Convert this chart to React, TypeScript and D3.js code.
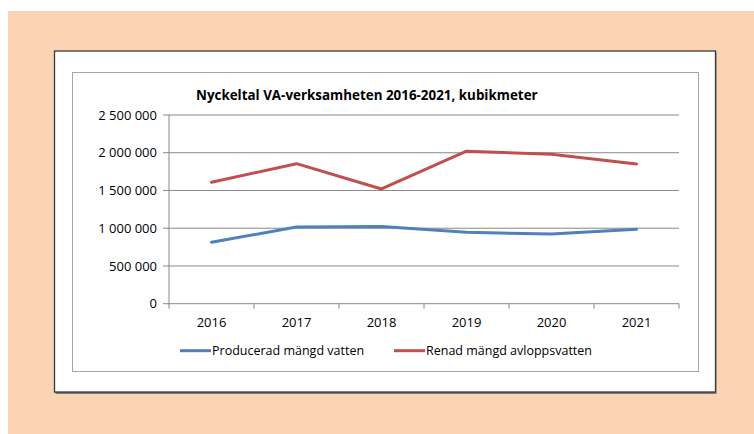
import React from "react";
import * as d3 from "d3";

const years = ["2016", "2017", "2018", "2019", "2020", "2021"];
const produced = [814000, 1015000, 1022000, 947000, 922000, 985000];
const treated = [1610000, 1855000, 1520000, 2020000, 1980000, 1850000];
const yTicks = [0, 500000, 1000000, 1500000, 2000000, 2500000];
const seriesNames = ["Producerad mängd vatten", "Renad mängd avloppsvatten"];
const seriesColors = ["#4F81BD", "#C0504D"];

const font = "'Open Sans', sans-serif";

const fmt = (v: number) => d3.format(",")(v).replace(/,/g, " ");

const App = () => {
  const width = 754;
  const height = 434;
  const plot = { left: 169, right: 679, top: 115, bottom: 303.7 };

  const x = d3.scaleBand().domain(years).range([plot.left, plot.right]);
  const y = d3.scaleLinear().domain([0, 2500000]).range([plot.bottom, plot.top]);

  const line = d3
    .line<number>()
    .x((d, i) => x(years[i])! + x.bandwidth() / 2)
    .y(d => y(d));

  const series = [produced, treated];

  return (
    <svg
      width={width}
      height={height}
      style={{ position: "absolute", left: 0, top: 0 }}
    >
      <rect x={0} y={0} width={width} height={height} fill="#fff" />
      <rect x={8} y={11} width={width - 8} height={height - 11} fill="#FBD4B4" />
      {/* outer box with a little shadow */}
      <rect x={55.5} y={52} width={661} height={342} fill="#7a7a7a" />
      <rect x={54.5} y={51} width={661} height={341} fill="#fff" stroke="#3a3a3a" strokeWidth={1.3} />
      {/* chart area frame */}
      <rect x={72.5} y={72.5} width={626} height={299} fill="#fff" stroke="#a6a6a6" strokeWidth={1} />

      <text
        x={196}
        y={100}
        fontFamily={font}
        fontWeight="bold"
        fontSize={13.4}
        fill="#000"
      >
        Nyckeltal VA-verksamheten 2016-2021, kubikmeter
      </text>

      {/* gridlines and y axis */}
      {yTicks.map(t => (
        <g key={t}>
          <line x1={plot.left - 6} x2={plot.right} y1={y(t)} y2={y(t)} stroke="#888" strokeWidth={1} />
          <text
            x={157}
            y={y(t)}
            dy="0.35em"
            textAnchor="end"
            fontFamily={font}
            fontSize={13}
            fill="#000"
          >
            {fmt(t)}
          </text>
        </g>
      ))}
      <line x1={plot.left} x2={plot.left} y1={plot.top} y2={plot.bottom} stroke="#888" />

      {/* x axis ticks and labels */}
      {years.map(yr => (
        <g key={yr}>
          <line
            x1={x(yr)! + x.bandwidth()}
            x2={x(yr)! + x.bandwidth()}
            y1={plot.bottom}
            y2={plot.bottom + 5}
            stroke="#888"
          />
          <text
            x={x(yr)! + x.bandwidth() / 2}
            y={322.7}
            dy="0.35em"
            textAnchor="middle"
            fontFamily={font}
            fontSize={13}
            fill="#000"
          >
            {yr}
          </text>
        </g>
      ))}
      <line x1={plot.left} x2={plot.left} y1={plot.bottom} y2={plot.bottom + 5} stroke="#888" />

      {series.map((s, i) => (
        <path
          key={i}
          d={line(s)!}
          fill="none"
          stroke={seriesColors[i]}
          strokeWidth={3}
          strokeLinejoin="round"
          strokeLinecap="round"
        />
      ))}

      {/* legend */}
      {[180, 394].map((lx, i) => (
        <g key={i}>
          <line x1={lx} x2={lx + 31} y1={350.7} y2={350.7} stroke={seriesColors[i]} strokeWidth={3} />
          <text
            x={lx + 32}
            y={350.7}
            dy="0.35em"
            fontFamily={font}
            fontSize={12.5}
            fill="#000"
          >
            {seriesNames[i]}
          </text>
        </g>
      ))}
    </svg>
  );
};

export default App;
